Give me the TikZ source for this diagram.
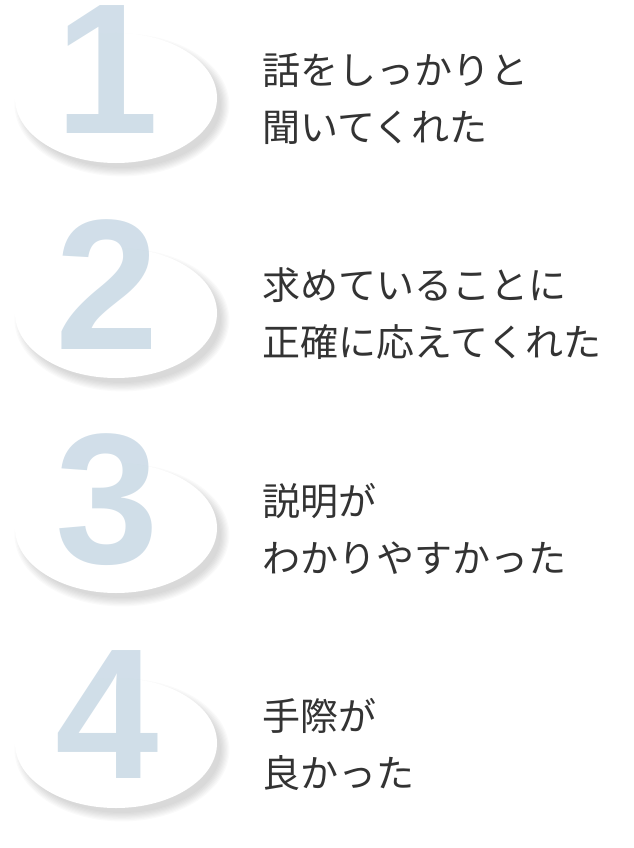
\documentclass[tikz,border=0pt]{standalone}
\usepackage{fontspec}
\newfontfamily\jpfont{Noto Sans CJK JP}
\newfontfamily\numfont{Liberation Sans}
\definecolor{numblue}{HTML}{C5D6E3}
\definecolor{txtgray}{HTML}{333333}
\tikzset{
  numlabel/.style={text=numblue, opacity=0.8, font=\numfont\bfseries\fontsize{186}{186}\selectfont, inner sep=0pt},
  itemtext/.style={text=txtgray, anchor=west, align=left, inner sep=0pt,
    font=\jpfont\fontsize{38}{57}\selectfont}
}
\begin{document}
\begin{tikzpicture}[x=1pt,y=-1pt]
    \useasboundingbox (0,0) rectangle (633,848);
    % Ellipses with soft shadows and numerals
    \foreach \n/\t in {1/{話をしっかりと\\聞いてくれた},
                       2/{求めていることに\\正確に応えてくれた},
                       3/{説明が\\わかりやすかった},
                       4/{手際が\\良かった}} {
        \pgfmathsetmacro{\yc}{98+215*(\n-1)}
        \foreach \k in {0,...,7} {
            \fill[black, opacity=0.02] (122,\yc+7) ellipse ({99+\k*1.2} and {63+\k*1.2});
        }
        \fill[white] (116,\yc) ellipse (101 and 65);
        \node[numlabel] (num\n) at (107,\yc-28) {\n};
        \node[itemtext] (txt\n) at (262,\yc+1) {\t};
    }
\end{tikzpicture}
\end{document}
